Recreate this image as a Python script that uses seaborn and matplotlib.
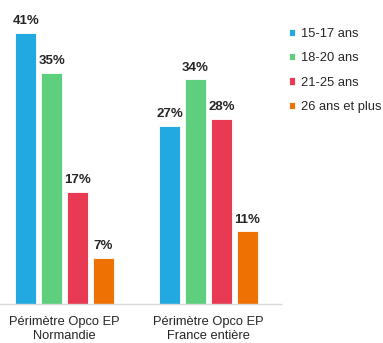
import matplotlib
matplotlib.use("Agg")
import matplotlib.pyplot as plt
import seaborn as sns
import pandas as pd

groups = ["Périmètre Opco EP\nNormandie", "Périmètre Opco EP\nFrance entière"]
age_bands = ["15-17 ans", "18-20 ans", "21-25 ans", "26 ans et plus"]
normandie = [41, 35, 17, 7]
france = [27, 34, 28, 11]
colors = ["#22A9E1", "#5ECF7C", "#E93A53", "#EE7203"]

rows = []
for g, vals in zip(groups, [normandie, france]):
    for band, v in zip(age_bands, vals):
        rows.append({"groupe": g, "age": band, "part": v})
df = pd.DataFrame(rows)

sns.set_theme(style="white")
plt.rcParams["font.family"] = ["Liberation Sans", "DejaVu Sans"]

W, H = 383, 343
fig = plt.figure(figsize=(W / 100, H / 100), dpi=100)
ax = fig.add_axes([0.0, (H - 304) / H, 281 / W, 304 / H])

sns.barplot(data=df, x="groupe", y="part", hue="age", hue_order=age_bands,
            palette=colors, saturation=1, width=0.72, gap=0.19, ax=ax,
            edgecolor="white", linewidth=0.6, legend=True)

ax.set_xlim(-0.448, 1.503)
ax.set_ylim(0, 46)
ax.set_xlabel("")
ax.set_ylabel("")
ax.set_yticks([])
for side in ["left", "right", "top"]:
    ax.spines[side].set_visible(False)
ax.spines["bottom"].set_color("#D9D9D9")
ax.spines["bottom"].set_linewidth(1.0)
ax.tick_params(axis="x", length=0, pad=9, labelsize=9.3, labelcolor="#262626")
for lbl in ax.get_xticklabels():
    lbl.set_linespacing(1.12)

for container in ax.containers:
    ax.bar_label(container, labels=[f"{int(v)}%" for v in container.datavalues],
                 padding=4, fontsize=9.5, fontweight="bold", color="#262626")

leg = ax.legend(loc="upper left", bbox_to_anchor=(289 / 281, 1 - 28 / 304),
                frameon=False, fontsize=9.3, handlelength=0.48, handleheight=0.48,
                handletextpad=0.45, labelspacing=0.95, borderaxespad=0, borderpad=0)
for t in leg.get_texts():
    t.set_color("#262626")

fig.savefig("out.png", dpi=100)
